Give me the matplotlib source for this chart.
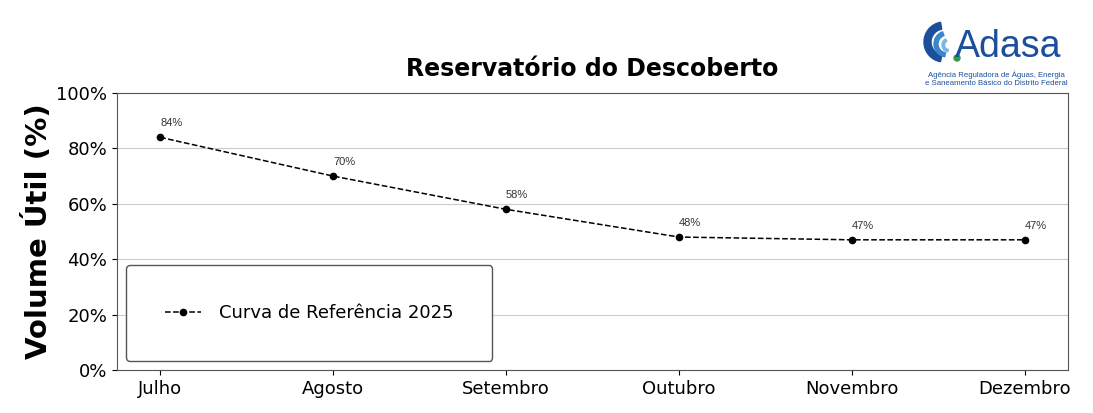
import matplotlib.pyplot as plt
from matplotlib.patches import Wedge, Circle

meses = ["Julho", "Agosto", "Setembro", "Outubro", "Novembro", "Dezembro"]
volume = [84, 70, 58, 48, 47, 47]
serie_label = "Curva de Referência 2025"
titulo = "Reservatório do Descoberto"

fig = plt.figure(figsize=(10.93, 4.13), dpi=100)
ax = fig.add_axes([117 / 1093, 1 - 370 / 413, (1068 - 117) / 1093, (370 - 93) / 413])

x = list(range(len(meses)))
ax.plot(
    x,
    volume,
    linestyle="--",
    color="black",
    marker="o",
    markersize=4.5,
    linewidth=1.1,
    label=serie_label,
)

for xi, v in zip(x, volume):
    ax.annotate(
        f"{v}%",
        (xi, v),
        xytext=(0, 6.5),
        textcoords="offset points",
        ha="left",
        va="bottom",
        fontsize=8,
        family="Liberation Sans",
        color="#333333",
    )

ax.set_xlim(-0.25, len(meses) - 0.75)
ax.set_ylim(0, 100)
ax.set_xticks(x)
ax.set_xticklabels(meses, fontsize=13)
ax.set_yticks(range(0, 101, 20))
ax.set_yticklabels([f"{t}%" for t in range(0, 101, 20)], fontsize=13)
ax.yaxis.grid(True, color="#cccccc", linewidth=0.8)
ax.set_axisbelow(True)
for s in ax.spines.values():
    s.set_color("#555555")

ax.set_ylabel("Volume Útil (%)", fontsize=21, fontweight="bold", labelpad=2)
ax.set_title(titulo, fontsize=17, fontweight="bold", pad=12)

ax.legend(
    loc="lower left",
    fontsize=13,
    borderpad=2.15,
    handlelength=2,
    handletextpad=1.0,
    fancybox=True,
    edgecolor="#555555",
    framealpha=1,
)

# logo (aproximado)
lax = fig.add_axes([920 / 1093, 1 - 72 / 413, 60 / 1093, 60 / 413])
lax.set_xlim(0, 60)
lax.set_ylim(0, 60)
lax.set_aspect("equal")
lax.axis("off")
lax.add_patch(Wedge((24, 30), 20, 100, 260, width=7, color="#1b4f9c"))
lax.add_patch(Wedge((27, 28), 13, 110, 260, width=4, color="#3a86c8"))
lax.add_patch(Wedge((29, 27), 7, 120, 260, width=2.5, color="#7ab8e0"))
lax.add_patch(Circle((37, 14), 3, color="#2e9e44"))

fig.text(955 / 1093, 1 - 47 / 413, "Adasa", fontsize=27, color="#1b4f9c",
         family="Liberation Sans", va="center", ha="left")
fig.text(996 / 1093, 1 - 79 / 413,
         "Agência Reguladora de Águas, Energia\ne Saneamento Básico do Distrito Federal",
         fontsize=5.6, color="#1b4f9c", family="Liberation Sans", ha="center",
         va="center", linespacing=1.2)

fig.savefig("out.png", dpi=100)
